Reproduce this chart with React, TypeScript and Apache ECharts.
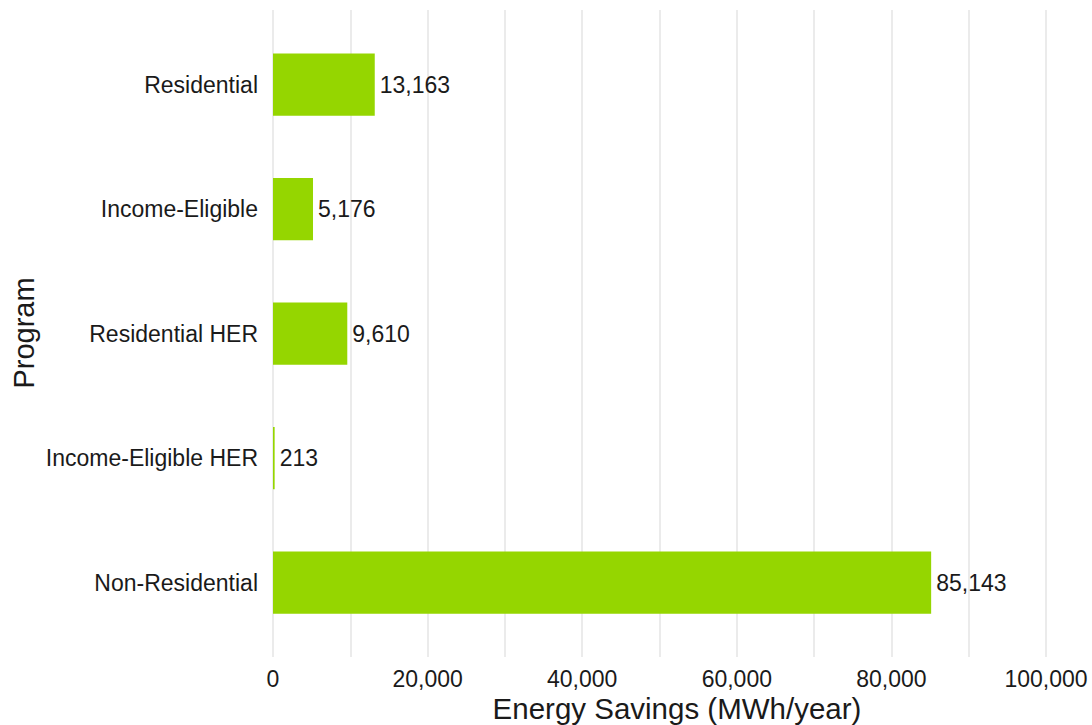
import React, { useEffect, useRef } from "react";
import * as echarts from "echarts";

const categories = [
  "Residential",
  "Income-Eligible",
  "Residential HER",
  "Income-Eligible HER",
  "Non-Residential",
];
const values = [13163, 5176, 9610, 213, 85143];
const xMin = 0;
const xMax = 100000;
const xStep = 10000;
const xLabelStep = 20000;
const xTitle = "Energy Savings (MWh/year)";
const yTitle = "Program";

const FONT = "'Liberation Sans', Arial, sans-serif";
const TEXT = "#1a1a1a";

export default function App() {
  const ref = useRef<HTMLDivElement>(null);
  useEffect(() => {
    if (!ref.current) return;
    const chart = echarts.init(ref.current, undefined, { renderer: "svg" });
    const fmt = (v: number) => v.toLocaleString("en-US");
    chart.setOption({
      animation: false,
      backgroundColor: "#ffffff",
      textStyle: { fontFamily: FONT },
      grid: [
        { left: 273, top: 22.25, width: 773, height: 622.5 },
        { left: 273, top: 10, width: 773, height: 647 },
      ],
      xAxis: [
        {
          gridIndex: 0,
          type: "value",
          min: xMin,
          max: xMax,
          show: false,
          splitLine: { show: false },
        },
        {
          gridIndex: 1,
          type: "value",
          min: xMin,
          max: xMax,
          interval: xStep,
          axisLine: { show: false },
          axisTick: { show: false },
          splitLine: { show: true, lineStyle: { color: "#e4e4e4", width: 1.5 } },
          axisLabel: {
            margin: 10,
            fontSize: 23,
            color: TEXT,
            fontFamily: FONT,
            formatter: (v: number) => (v % xLabelStep === 0 ? fmt(v) : ""),
          },
        },
      ],
      yAxis: [
        {
          gridIndex: 0,
          type: "category",
          data: categories,
          inverse: true,
          axisLine: { show: false },
          axisTick: { show: false },
          splitLine: { show: false },
          axisLabel: { margin: 15, fontSize: 23, color: TEXT, fontFamily: FONT },
        },
        { gridIndex: 1, type: "value", show: false, splitLine: { show: false } },
      ],
      series: [
        {
          type: "bar",
          xAxisIndex: 0,
          yAxisIndex: 0,
          data: values,
          barWidth: "50%",
          itemStyle: { color: "#95d600" },
          label: {
            show: true,
            position: "right",
            distance: 5,
            fontSize: 23,
            color: TEXT,
            fontFamily: FONT,
            formatter: (p: any) => fmt(p.value),
          },
        },
      ],
      graphic: [
        {
          type: "text",
          x: 677,
          y: 708.5,
          style: {
            text: xTitle,
            fontSize: 29.5,
            fontFamily: FONT,
            fill: TEXT,
            align: "center",
            verticalAlign: "middle",
          },
        },
        {
          type: "text",
          x: 24,
          y: 333,
          rotation: Math.PI / 2,
          style: {
            text: yTitle,
            fontSize: 29,
            fontFamily: FONT,
            fill: TEXT,
            align: "center",
            verticalAlign: "middle",
          },
        },
      ],
    });
    return () => chart.dispose();
  }, []);
  return (
    <div
      ref={ref}
      style={{ position: "fixed", left: 0, top: 0, width: 1092, height: 725 }}
    />
  );
}
